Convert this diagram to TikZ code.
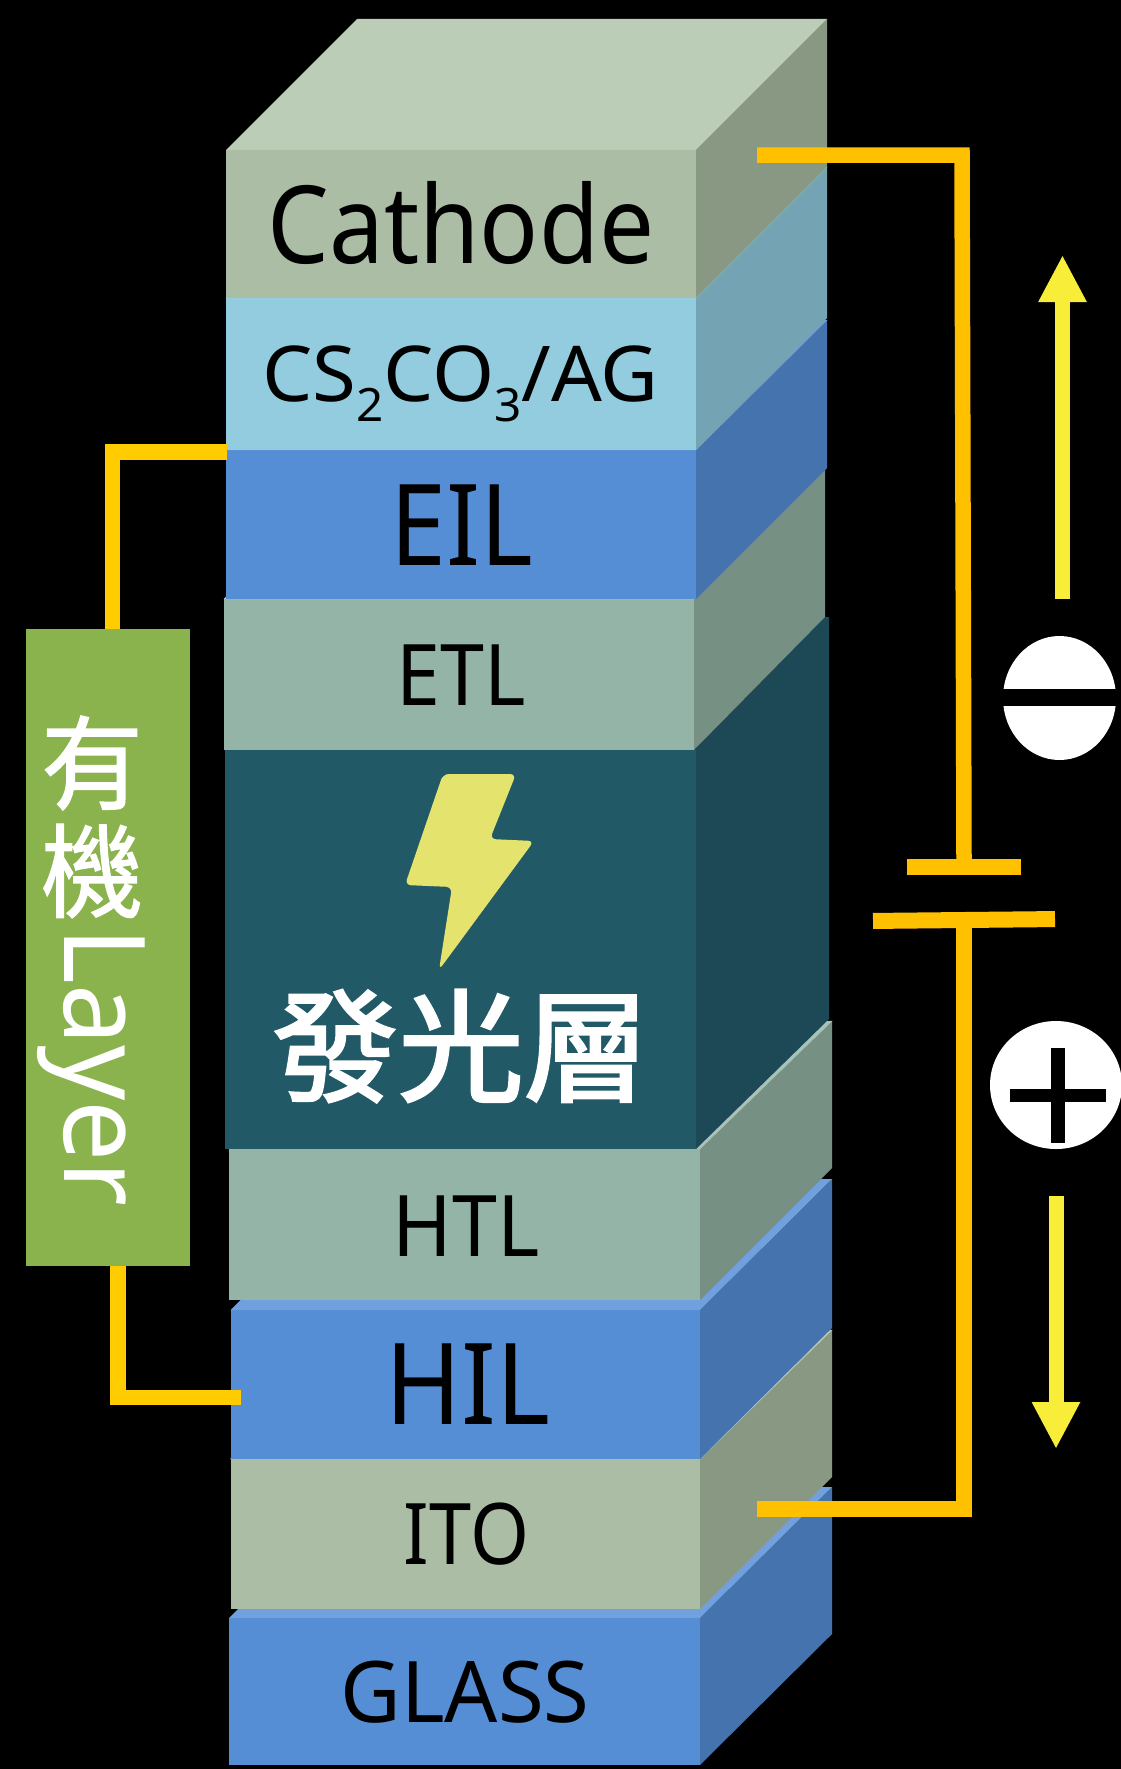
\documentclass[tikz,border=0pt]{standalone}
\usepackage{fontspec}
\setmainfont{Noto Sans}
\newfontfamily\cjkfont[FakeBold=1.3]{Noto Sans CJK TC}
\newfontfamily\cjkheavy[FakeBold=2.2]{Noto Sans CJK TC}
\usetikzlibrary{shapes.geometric,arrows.meta}

\begin{document}
\begin{tikzpicture}[x=1pt, y=-1pt,
        layerbox/.style={minimum width=#1pt, inner sep=0pt, outer sep=0pt},
        layerbox/.default=470,
        biglabel/.style={anchor=base, inner sep=0pt, text=black, font={\fontsize{113}{120}\selectfont}},
        midlabel/.style={anchor=base, inner sep=0pt, text=black, font={\fontsize{85}{90}\selectfont}},
        rightwire/.style={draw=wirecolor, line width=15.5pt},
        leftwire/.style={draw=wirecolorb, line width=15.5pt},
        flowarrow/.style={draw=arrowyellow, line width=15pt, -{Triangle[length=47pt,width=45pt]}}
    ]
        \definecolor{cathodefront}{RGB}{171,189,164}
        \definecolor{cathodetop}{RGB}{187,204,183}
        \definecolor{cathodeside}{RGB}{137,152,130}
        \definecolor{csfront}{RGB}{146,204,222}
        \definecolor{cstop}{RGB}{170,218,232}
        \definecolor{csside}{RGB}{116,164,179}
        \definecolor{bluefront}{RGB}{85,142,213}
        \definecolor{bluetop}{RGB}{112,160,221}
        \definecolor{blueside}{RGB}{69,115,173}
        \definecolor{tlfront}{RGB}{147,180,167}
        \definecolor{tltop}{RGB}{168,196,186}
        \definecolor{tlside}{RGB}{118,144,131}
        \definecolor{emfront}{RGB}{33,89,103}
        \definecolor{emside}{RGB}{29,73,87}
        \definecolor{organicgreen}{RGB}{138,179,78}
        \definecolor{wirecolor}{RGB}{255,192,0}
        \definecolor{wirecolorb}{RGB}{255,204,0}
        \definecolor{arrowyellow}{RGB}{248,238,58}
        \definecolor{boltyellow}{RGB}{227,227,110}

        % Black page
        \fill[black] (0,0) rectangle (1121,1769);
        \useasboundingbox (0,0) rectangle (1121,1769);

        % Glass
        \fill[blueside] (700,1618) -- (832,1487) -- (832,1634) -- (700,1765) -- cycle;
        \node[layerbox=471, fill=bluefront, minimum height=147pt] (glass) at (464.5,1691.5) {};
        \fill[bluetop] (glass.north west) -- (361,1487) -- (832,1487) -- (glass.north east) -- cycle;

        % ITO
        \fill[cathodeside] (700,1459) -- (832,1330) -- (832,1477) -- (700,1609) -- cycle;
        \node[layerbox=469.5, fill=cathodefront, minimum height=150pt] (ito) at (465.25,1534) {};
        \draw[cathodetop, fill=cathodetop] (ito.north west) -- (361,1330) -- (832,1330) -- (ito.north east) -- cycle;

        % HIL
        \fill[blueside] (700,1310) -- (832,1179) -- (832,1328) -- (700,1459) -- cycle;
        \node[layerbox=469.5, fill=bluefront, minimum height=149pt] (hil) at (465.25,1384.5) {};
        \fill[bluetop] (hil.north west) -- (363,1179) -- (832,1179) -- (hil.north east) -- cycle;

        % HTL
        \fill[tlside] (700,1149) -- (832,1021) -- (832,1168) -- (700,1300) -- cycle;
        \node[layerbox=471, fill=tlfront, minimum height=151pt] (htl) at (464.5,1224.5) {};
        \draw[tltop, fill=tltop] (htl.north west) -- (361,1021) -- (832,1021) -- (htl.north east) -- cycle;

        % Emissive layer
        \fill[emside] (694,750) -- (825,617) -- (829,617) -- (829,1019) -- (696,1149) -- cycle;
        \node[layerbox=471, fill=emfront, minimum height=399pt] (emissive) at (460.5,949.5) {};

        % ETL
        \fill[tlside] (694,599) -- (825,468) -- (825,617) -- (694,750) -- cycle;
        \node[layerbox=470, fill=tlfront, minimum height=151pt] (etl) at (459,674.5) {};
        \draw[tltop, fill=tltop] (etl.north west) -- (356,468) -- (825,468) -- (etl.north east) -- cycle;

        % EIL
        \fill[blueside] (696,450) -- (827,320) -- (827,468) -- (696,599) -- cycle;
        \node[layerbox=470, fill=bluefront, minimum height=149pt] (eil) at (461,524.5) {};
        \draw[bluetop, fill=bluetop] (eil.north west) -- (357,320) -- (827,320) -- (eil.north east) -- cycle;

        % CS2CO3/AG
        \fill[csside] (696,298) -- (827,167) -- (827,318) -- (696,450) -- cycle;
        \node[layerbox=470, fill=csfront, minimum height=152pt] (csag) at (461,374) {};
        \draw[cstop, fill=cstop] (csag.north west) -- (357,167) -- (827,167) -- (csag.north east) -- cycle;

        % Cathode
        \fill[cathodeside] (696,150) -- (827,19) -- (827,167) -- (696,298) -- cycle;
        \node[layerbox=470, fill=cathodefront, minimum height=148pt] (cathode) at (461,224) {};
        \fill[cathodetop] (cathode.north west) -- (357,19) -- (827,19) -- (cathode.north east) -- cycle;

        % Labels for layers
        \node[biglabel, font={\fontsize{108}{115}\selectfont}, xscale=0.905, transform shape] (cathodelabel) at (461,263) {Cathode};
        \node[midlabel, font={\fontsize{77}{80}\selectfont}, xscale=1.035, transform shape] (cslabel) at (460.5,401) {CS\raisebox{-20pt}{\fontsize{46}{46}\selectfont 2}CO\raisebox{-20pt}{\fontsize{46}{46}\selectfont 3}/AG};
        \node[biglabel, xscale=0.89, transform shape] (eillabel) at (462,565) {EIL};
        \node[midlabel, xscale=0.93, transform shape] (etllabel) at (461.5,705) {ETL};
        \node[midlabel, xscale=0.95, transform shape] (htllabel) at (466.5,1256) {HTL};
        \node[biglabel, xscale=0.91, transform shape] (hillabel) at (467.5,1424) {HIL};
        \node[midlabel, xscale=0.89, transform shape] (itolabel) at (466.5,1564) {ITO};
        \node[midlabel, xscale=0.98, transform shape] (glasslabel) at (465,1722) {GLASS};

        % Bolt and emissive label
        \fill[boltyellow, rounded corners=6pt] (443,774) -- (516,774) -- (490,839) -- (534,841) -- (439,970) -- (452,887) -- (405,885) -- cycle;
        \node[inner sep=0pt, text=white, font={\cjkheavy\fontsize{122}{130}\selectfont}, xscale=1.03, transform shape] (emlabel) at (461,1046) {發光層};

        % Organic layer box
        \node[fill=organicgreen, minimum width=164pt, minimum height=637pt, inner sep=0pt] (organic) at (108,947.5) {};
        \node[inner sep=0pt, text=white, font={\cjkfont\fontsize{102}{110}\selectfont}] (organicA) at (92,763) {有};
        \node[inner sep=0pt, text=white, font={\cjkfont\fontsize{102}{110}\selectfont}] (organicB) at (92,871) {機};
        \node[rotate=-90, xscale=0.96, transform shape, anchor=base, inner sep=0pt, text=white, font={\fontsize{113}{120}\selectfont}] (organicC) at (64,1067) {Layer};

        % Left wires
        \coordinate (eiltap) at (227,452);
        \coordinate (organictop) at (112.5,629);
        \coordinate (organicbottom) at (118,1266);
        \coordinate (hiltap) at (241,1397.5);
        \draw[leftwire] (eiltap) -| (organictop);
        \draw[leftwire] (organicbottom) |- (hiltap);

        % Battery plates
        \node[fill=wirecolor, minimum width=114pt, minimum height=16pt, inner sep=0pt] (plateminus) at (964,867) {};
        \node[fill=wirecolor, minimum width=182pt, minimum height=16pt, inner sep=0pt, rotate=0.6] (plateplus) at (964,920) {};

        % Right wires
        \coordinate (cathodetap) at (757,155);
        \coordinate (cathodebend) at (962,155);
        \coordinate (itotap) at (757,1509);
        \draw[rightwire] (cathodetap) -- (cathodebend) -- (plateminus.north);
        \draw[rightwire] (plateplus.south) |- (itotap);

        % Flow arrows
        \coordinate (upstart) at (1062.5,599);
        \coordinate (upend) at (1062.5,255);
        \coordinate (downstart) at (1056,1196);
        \coordinate (downend) at (1056,1449);
        \draw[flowarrow] (upstart) -- (upend);
        \draw[flowarrow] (downstart) -- (downend);

        % Polarity signs
        \node[ellipse, fill=white, minimum width=113pt, minimum height=124pt, inner sep=0pt] (minussign) at (1059.5,698) {};
        \fill[black] (1000,689) rectangle (1120,706);
        \node[ellipse, fill=white, minimum width=132pt, minimum height=128pt, inner sep=0pt] (plussign) at (1056,1085) {};
        \fill[black] (1010,1089) rectangle (1106,1102);
        \fill[black] (1051,1048) rectangle (1065,1143);
    \end{tikzpicture}
\end{document}
